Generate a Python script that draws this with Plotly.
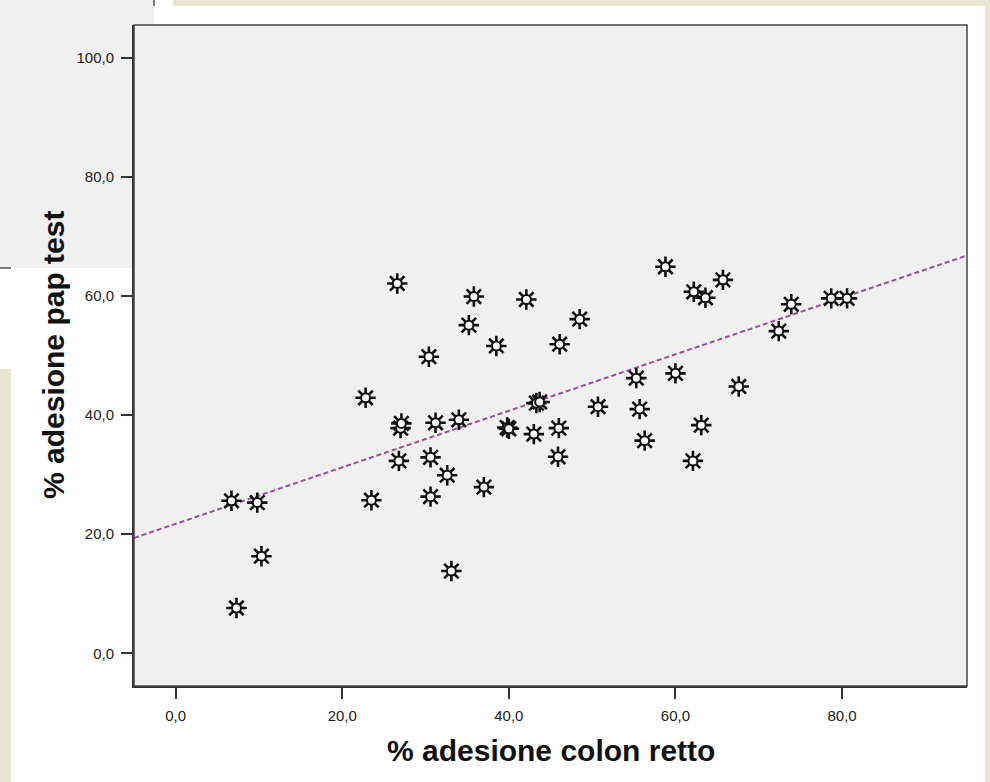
import numpy as np
import plotly.graph_objects as go

# ---- data ----
colon_retto = [6.7, 7.3, 9.8, 10.3, 22.8, 23.5, 26.6, 26.8, 27.0, 27.1,
               30.4, 30.6, 30.6, 31.2, 32.6, 33.1, 34.0, 35.2, 35.8, 37.0,
               38.5, 39.8, 40.0, 42.1, 43.0, 43.3, 43.7, 45.9, 46.0, 46.1,
               48.5, 50.7, 55.3, 55.7, 56.3, 58.8, 60.0, 62.1, 62.2, 63.1,
               63.6, 65.7, 67.6, 72.4, 73.9, 78.7, 80.6]
pap_test = [25.6, 7.6, 25.3, 16.3, 42.9, 25.7, 62.1, 32.3, 37.8, 38.6,
            49.8, 32.9, 26.3, 38.7, 29.9, 13.8, 39.2, 55.1, 59.9, 27.9,
            51.6, 37.9, 37.7, 59.4, 36.8, 42.0, 42.2, 33.0, 37.8, 51.9,
            56.1, 41.4, 46.2, 41.0, 35.7, 64.9, 47.0, 32.3, 60.7, 38.3,
            59.7, 62.7, 44.8, 54.1, 58.6, 59.6, 59.6]

x_ticks = [0, 20, 40, 60, 80]
x_ticktext = ["0,0", "20,0", "40,0", "60,0", "80,0"]
y_ticks = [0, 20, 40, 60, 80, 100]
y_ticktext = ["0,0", "20,0", "40,0", "60,0", "80,0", "100,0"]
x_range = [-5, 95]
y_range = [-5.5, 105.5]

x_title = "% adesione colon retto"
y_title = "% adesione pap test"

# ---- figure geometry ----
W, H = 990, 782
L, R, T, B = 134, 23, 25, 96
pw, ph = W - L - R, H - T - B


def px(x):
    return (x - L) / pw


def py(y):
    return (H - B - y) / ph


# linear fit line (total fit)
slope, intercept = np.polyfit(colon_retto, pap_test, 1)
fit_x = np.array(x_range, dtype=float)
fit_y = intercept + slope * fit_x

INK = "#111111"
fig = go.Figure()
fig.add_trace(go.Scatter(x=fit_x, y=fit_y, mode="lines",
                         line=dict(color="#9c4c9e", width=2, dash="5px,3px"),
                         hoverinfo="skip", showlegend=False))
fig.add_trace(go.Scatter(x=colon_retto, y=pap_test, mode="markers",
                         marker=dict(symbol="asterisk-open", size=17, color=INK,
                                     line=dict(color=INK, width=2.6)),
                         showlegend=False))
fig.add_trace(go.Scatter(x=colon_retto, y=pap_test, mode="markers",
                         marker=dict(symbol="circle", size=9, color="#ffffff",
                                     line=dict(color=INK, width=2)),
                         showlegend=False, hoverinfo="skip"))

BEIGE = "#e8e6d3"
GREY = "#f0f0f0"
shapes = [
    dict(type="rect", xref="paper", yref="paper", layer="below",
         x0=px(0), x1=px(154), y0=py(0), y1=py(268),
         fillcolor=GREY, line=dict(width=0)),
    dict(type="line", xref="paper", yref="paper", layer="below",
         x0=px(154), x1=px(154), y0=py(0), y1=py(6),
         line=dict(color="#555555", width=1.5)),
    dict(type="line", xref="paper", yref="paper", layer="below",
         x0=px(0), x1=px(11), y0=py(268), y1=py(268),
         line=dict(color="#555555", width=1.5)),
    dict(type="rect", xref="paper", yref="paper", layer="below",
         x0=px(173), x1=px(990), y0=py(0), y1=py(6),
         fillcolor=BEIGE, line=dict(width=0)),
    dict(type="rect", xref="paper", yref="paper", layer="below",
         x0=px(985), x1=px(990), y0=py(0), y1=py(782),
         fillcolor=BEIGE, line=dict(width=0)),
    dict(type="rect", xref="paper", yref="paper", layer="below",
         x0=px(0), x1=px(11), y0=py(369), y1=py(782),
         fillcolor=BEIGE, line=dict(width=0)),
    # plot frame (top / right)
    dict(type="rect", xref="paper", yref="paper", layer="above",
         x0=0, x1=1, y0=0, y1=1, line=dict(color="#444444", width=1.5)),
]

axis_common = dict(showgrid=False, zeroline=False, showline=True,
                   linecolor="#333333", linewidth=2, ticks="outside",
                   ticklen=11, tickwidth=2, tickcolor="#333333",
                   tickfont=dict(family="Liberation Sans, Arial", size=15,
                                 color="#222222"))

fig.update_layout(
    width=W, height=H,
    margin=dict(l=L, r=R, t=T, b=B, autoexpand=False),
    paper_bgcolor="#ffffff", plot_bgcolor=GREY,
    shapes=shapes,
    xaxis=dict(range=x_range, tickvals=x_ticks, ticktext=x_ticktext,
               ticklabelstandoff=4, **axis_common),
    yaxis=dict(range=y_range, tickvals=y_ticks, ticktext=y_ticktext,
               ticklabelstandoff=4, **axis_common),
    annotations=[
        dict(text="<b>" + x_title + "</b>", xref="paper", yref="paper",
             x=px(551), y=py(750), xanchor="center", yanchor="middle",
             showarrow=False,
             font=dict(family="Liberation Sans, Arial", size=30, color=INK)),
        dict(text="<b>" + y_title + "</b>", xref="paper", yref="paper",
             x=px(53), y=py(355), xanchor="center", yanchor="middle",
             textangle=-90, showarrow=False,
             font=dict(family="Liberation Sans, Arial", size=30, color=INK)),
    ],
)

fig.write_html("out.html")
